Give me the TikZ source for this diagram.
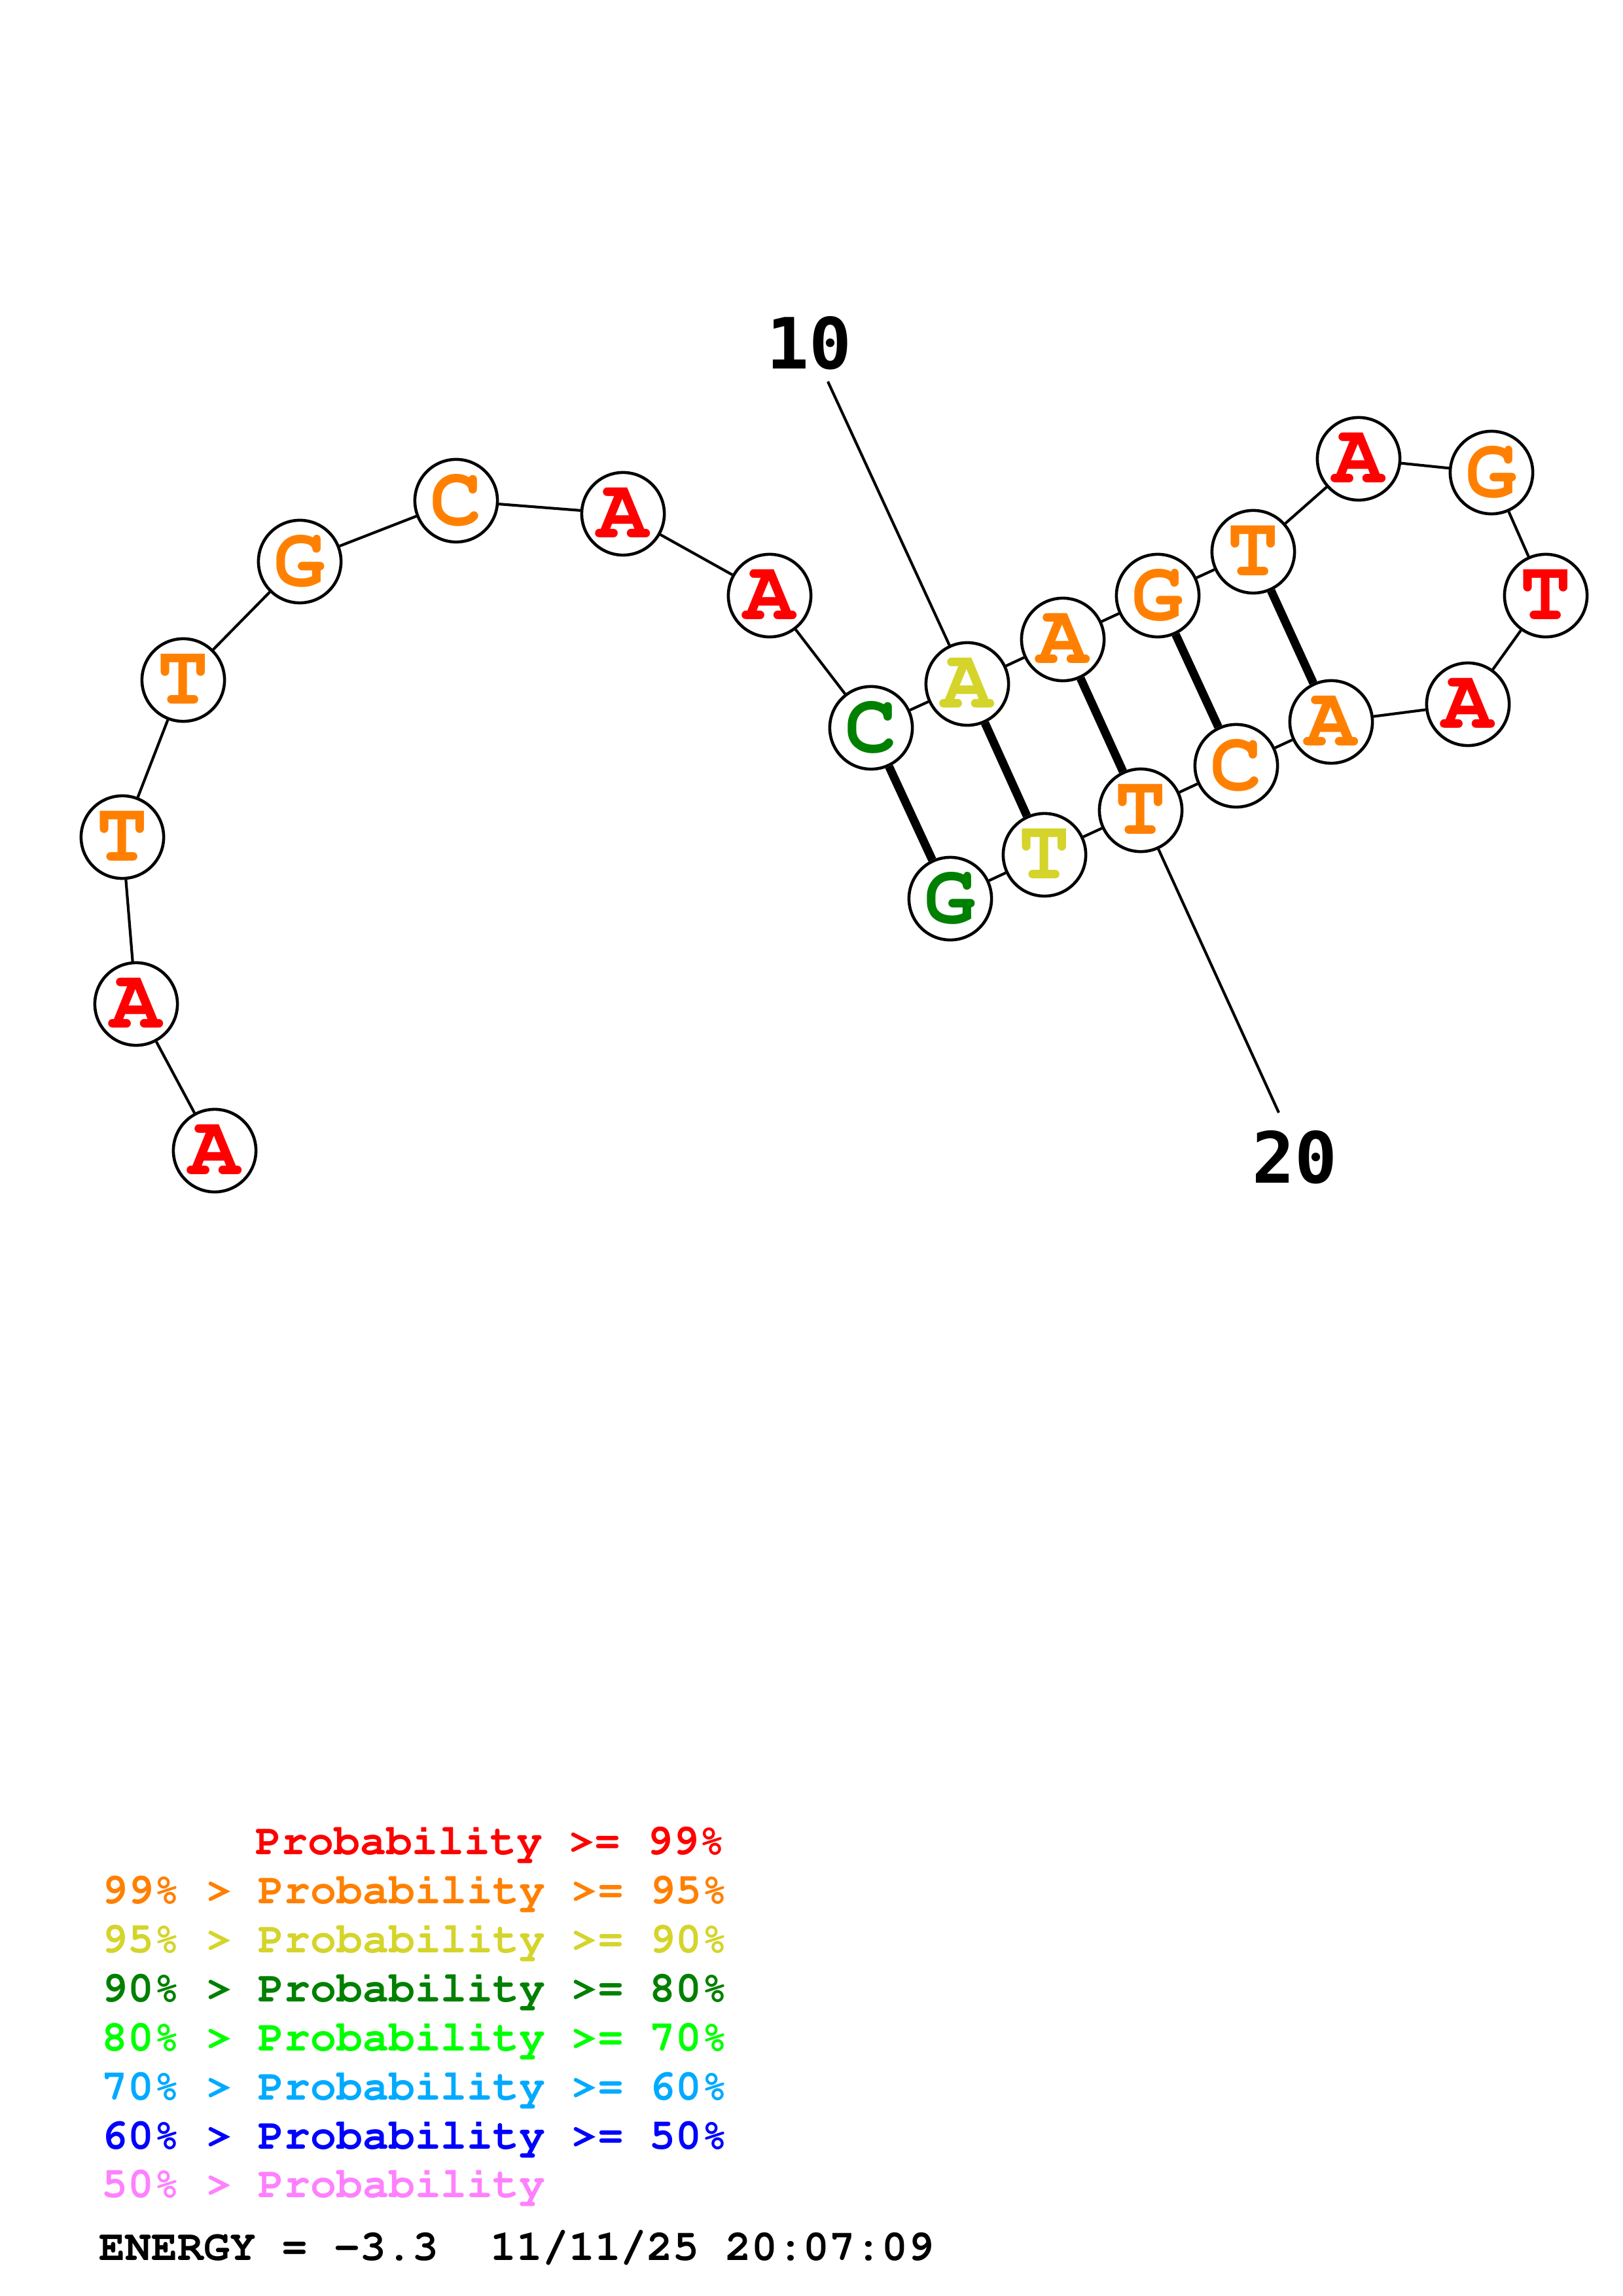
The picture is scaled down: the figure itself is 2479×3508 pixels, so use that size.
\documentclass[tikz,border=0pt]{standalone}
\usepackage[T1,TU]{fontenc}
\usepackage{fontspec}
\setmonofont{Liberation Mono}
\newfontfamily\labfont{DejaVu Sans Mono}
\newcommand{\courb}{\fontencoding{T1}\fontfamily{pcr}\fontseries{b}\fontshape{n}\selectfont}
\definecolor{pr99}{RGB}{255,0,0}
\definecolor{pr95}{RGB}{255,128,0}
\definecolor{pr90}{RGB}{212,212,43}
\definecolor{pr80}{RGB}{0,128,0}
\definecolor{pr70}{RGB}{0,255,0}
\definecolor{pr60}{RGB}{0,170,255}
\definecolor{pr50}{RGB}{0,0,255}
\definecolor{prlo}{RGB}{255,128,255}
\tikzset{
  nt/.style={circle,draw=black,line width=1.1pt,minimum size=30.4pt,inner sep=0pt,fill=white,
    font=\courb\fontsize{31.5}{31.5}\selectfont},
  bb/.style={line width=1.0pt},
  bp/.style={line width=3.1pt},
  numlab/.style={inner sep=0pt,font=\labfont\bfseries\fontsize{26}{26}\selectfont},
  numline/.style={line width=1.0pt},
  leg/.style={anchor=base west,inner sep=0pt,font=\courb\fontsize{16}{16}\selectfont}
}
\begin{document}
\begin{tikzpicture}[x=0.24088pt,y=-0.24088pt]
\useasboundingbox (0,0) rectangle (2479,3508);
% nucleotides
\node[nt,text=pr99] (n1) at (328,1758) {A};
\node[nt,text=pr99] (n2) at (208,1534) {A};
\node[nt,text=pr95] (n3) at (187,1279) {T};
\node[nt,text=pr95] (n4) at (280,1039) {T};
\node[nt,text=pr95] (n5) at (458,858) {G};
\node[nt,text=pr95] (n6) at (697,765) {C};
\node[nt,text=pr99] (n7) at (952,785) {A};
\node[nt,text=pr99] (n8) at (1176,910) {A};
\node[nt,text=pr80] (n9) at (1331,1112) {C};
\node[nt,text=pr90] (n10) at (1478,1045) {A};
\node[nt,text=pr95] (n11) at (1624,977) {A};
\node[nt,text=pr95] (n12) at (1769,910) {G};
\node[nt,text=pr95] (n13) at (1915,843) {T};
\node[nt,text=pr99] (n14) at (2076,701) {A};
\node[nt,text=pr95] (n15) at (2279,722) {G};
\node[nt,text=pr99] (n16) at (2362,910) {T};
\node[nt,text=pr99] (n17) at (2243,1076) {A};
\node[nt,text=pr95] (n18) at (2034,1103) {A};
\node[nt,text=pr95] (n19) at (1889,1170) {C};
\node[nt,text=pr95] (n20) at (1743,1238) {T};
\node[nt,text=pr90] (n21) at (1596,1306) {T};
\node[nt,text=pr80] (n22) at (1452,1373) {G};
% backbone
\foreach \a/\b in {1/2,2/3,3/4,4/5,5/6,6/7,7/8,8/9,9/10,10/11,11/12,12/13,13/14,14/15,15/16,16/17,17/18,18/19,19/20,20/21,21/22}
  \draw[bb] (n\a) -- (n\b);
% base pairs
\foreach \a/\b in {9/22,10/21,11/20,12/19,13/18}
  \draw[bp] (n\a) -- (n\b);
% position labels
\node[numlab] (l10) at (1236,524) {10};
\coordinate (l10e) at (1265,583);
\draw[numline] (n10) -- (l10e);
\node[numlab] (l20) at (1978,1768) {20};
\coordinate (l20e) at (1954,1700);
\draw[numline] (n20) -- (l20e);
% legend
\node[leg,text=pr99] (g1) at (390,2833) {Probability >= 99\%};
\node[leg,text=pr95] (g2) at (155,2908) {99\% > Probability >= 95\%};
\node[leg,text=pr90] (g3) at (155,2983) {95\% > Probability >= 90\%};
\node[leg,text=pr80] (g4) at (155,3058) {90\% > Probability >= 80\%};
\node[leg,text=pr70] (g5) at (155,3133) {80\% > Probability >= 70\%};
\node[leg,text=pr60] (g6) at (155,3208) {70\% > Probability >= 60\%};
\node[leg,text=pr50] (g7) at (155,3283) {60\% > Probability >= 50\%};
\node[leg,text=prlo] (g8) at (155,3357) {50\% > Probability};
\node[leg,text=black] (en) at (151,3453) {ENERGY = -3.3~ 11/11/25 20:07:09};
\end{tikzpicture}
\end{document}
